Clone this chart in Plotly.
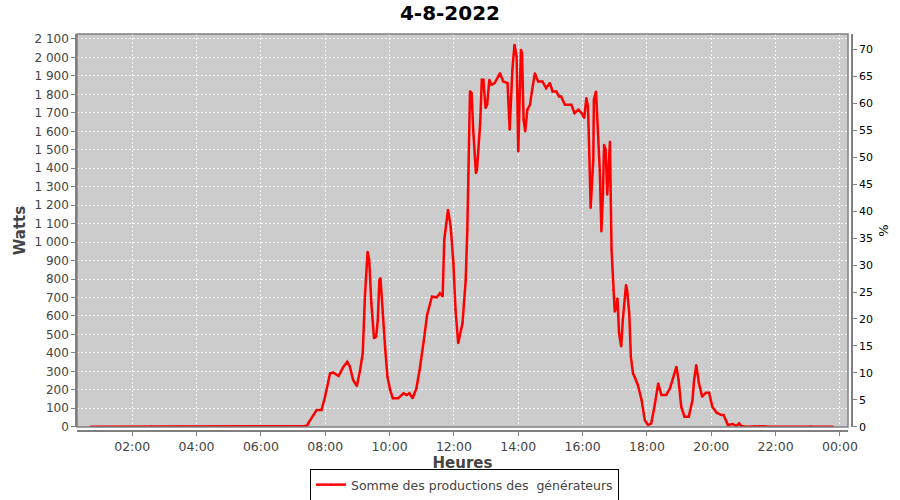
import plotly.graph_objects as go

DAY = "2022-08-04"
NEXT_DAY = "2022-08-05"

# Heures (HH:MM) and Watts
times = [
    "00:42", "00:55", "01:10", "01:25", "01:40", "01:55", "02:10", "02:25", "02:35", "02:45",
    "03:00", "03:15", "03:25", "03:35", "03:50", "04:05", "04:20", "04:35", "04:50", "05:05",
    "05:20", "05:35", "05:50", "06:05", "06:15", "06:25", "06:35", "06:50", "07:00", "07:10",
    "07:20", "07:26", "07:29", "07:38", "07:44", "07:53", "07:59", "08:09", "08:15", "08:25",
    "08:34", "08:41", "08:46", "08:52", "08:59", "09:05", "09:10", "09:14", "09:19", "09:22",
    "09:26", "09:31", "09:35", "09:38", "09:41", "09:43", "09:47", "09:52", "09:56", "10:01",
    "10:06", "10:16", "10:26", "10:32", "10:37", "10:43", "10:50", "10:56", "11:04", "11:10",
    "11:19", "11:28", "11:34", "11:39", "11:42", "11:49", "11:54", "11:59", "12:03", "12:08",
    "12:16", "12:22", "12:25", "12:27", "12:30", "12:33", "12:36", "12:41", "12:43", "12:49",
    "12:52", "12:55", "12:59", "13:02", "13:06", "13:10", "13:16", "13:26", "13:32", "13:40",
    "13:44", "13:49", "13:53", "13:57", "14:00", "14:05", "14:07", "14:10", "14:13", "14:17",
    "14:22", "14:25", "14:31", "14:37", "14:45", "14:52", "14:59", "15:04", "15:11", "15:16",
    "15:20", "15:27", "15:39", "15:45", "15:52", "15:58", "16:03", "16:07", "16:10", "16:12",
    "16:15", "16:20", "16:21", "16:25", "16:29", "16:32", "16:35", "16:38", "16:40", "16:43",
    "16:46", "16:51", "16:54", "16:57", "17:00", "17:03", "17:05", "17:08", "17:12", "17:15",
    "17:21", "17:23", "17:27", "17:30", "17:34", "17:37", "17:43", "17:50", "17:56", "18:02",
    "18:08", "18:14", "18:21", "18:27", "18:36", "18:43", "18:49", "18:55", "18:59", "19:04",
    "19:10", "19:18", "19:25", "19:28", "19:32", "19:37", "19:43", "19:50", "19:56", "20:02",
    "20:10", "20:19", "20:23", "20:31", "20:40", "20:47", "20:52", "20:56", "21:05", "21:20",
    "21:35", "21:50", "22:05", "22:20", "22:35", "22:50", "23:05", "23:20", "23:35", "23:47",
]
watts = [
    0, 0, 0, 0, 0, 0, 0, 0, 3, 0,
    0, 0, 3, 0, 0, 0, 0, 0, 0, 0,
    0, 0, 3, 0, 3, 4, 0, 0, 3, 3,
    4, 5, 22, 63, 90, 90, 154, 289, 293, 275,
    325, 352, 325, 253, 220, 307, 398, 705, 948, 903,
    669, 479, 488, 578, 795, 804, 615, 416, 271, 199,
    154, 154, 181, 172, 181, 154, 208, 307, 470, 605,
    705, 701, 723, 705, 1012, 1175, 1084, 886, 632, 452,
    560, 795, 1066, 1373, 1817, 1807, 1608, 1373, 1391, 1644,
    1879, 1879, 1726, 1744, 1879, 1852, 1861, 1915, 1870, 1861,
    1608, 1933, 2069, 2005, 1490, 2042, 2024, 1662, 1599, 1717,
    1744, 1807, 1915, 1870, 1870, 1834, 1861, 1816, 1816, 1789,
    1789, 1744, 1744, 1699, 1717, 1699, 1672, 1780, 1734, 1536,
    1184, 1446, 1771, 1816, 1590, 1391, 1057, 1265, 1527, 1500,
    1256, 1545, 958, 741, 623, 650, 696, 506, 434, 578,
    768, 741, 615, 379, 289, 271, 226, 145, 36, 9,
    18, 108, 235, 172, 172, 208, 262, 325, 253, 108,
    54, 54, 145, 253, 334, 235, 163, 184, 184, 108,
    76, 63, 63, 9, 15, 4, 18, 4, 0, 2,
    2, 0, 0, 0, 0, 0, 2, 0, 0, 0,
]

series_name = "Somme des productions des \u00a0générateurs"
title_text = "4-8-2022"
x_title = "Heures"
y_title = "Watts"
y2_title = "%"
w_range = [-1.5, 2127]
pct_range = [-0.05, 72.9]
x_range = [f"{DAY} 00:17", f"{NEXT_DAY} 00:15"]

x_vals = [f"{DAY} {t}" for t in times]

FONT = "DejaVu Sans"
GRID = "rgba(255,255,255,0.85)"

fig = go.Figure()
fig.add_trace(go.Scatter(
    x=x_vals, y=watts, name=series_name, mode="lines+markers",
    line=dict(color="#ff0000", width=2.5),
    marker=dict(color="#ee0000", size=2),
))
# helper so the % axis is drawn
fig.add_trace(go.Scatter(x=[x_vals[0]], y=[None], yaxis="y2", showlegend=False,
                         hoverinfo="skip", mode="lines"))

W, H = 900, 500
ml, mr, mt, mb = 77, 48, 34, 69
area_w = W - ml - mr
area_h = H - mt - mb

fig.update_layout(
    width=W, height=H,
    margin=dict(l=ml, r=mr, t=mt, b=mb, autoexpand=False),
    paper_bgcolor="white",
    plot_bgcolor="#cccccc",
    separators=", ",
    font=dict(family=FONT, size=12, color="#444444"),
    title=dict(text=f"<b>{title_text}</b>", x=0.5, xanchor="center", y=1 - 13 / H,
               yanchor="middle", font=dict(size=20, color="black", family=FONT)),
    xaxis=dict(
        type="date", range=x_range, domain=[0, (area_w - 4) / area_w],
        anchor="free", position=0, automargin=False,
        dtick=7200000, tick0=f"{DAY} 00:00", tickformat="%H:%M",
        showgrid=True, gridcolor=GRID, griddash="2px,2px", gridwidth=1,
        showline=True, linecolor="#808080", linewidth=1.5,
        ticks="outside", ticklen=4, tickcolor="#808080",
        tickfont=dict(size=12.5, color="#444444"),
        title=dict(text=f"<b>{x_title}</b>", font=dict(size=15, color="#444444"), standoff=1),
        zeroline=False,
    ),
    yaxis=dict(
        range=w_range, domain=[4 / area_h, 1], dtick=100, tick0=0, automargin=False,
        separatethousands=True,
        showgrid=True, gridcolor=GRID, griddash="2px,2px", gridwidth=1,
        showline=True, linecolor="#808080", linewidth=1.5,
        ticks="outside", ticklen=4, tickcolor="#808080",
        tickfont=dict(size=12, color="#444444"),
        title=dict(text=f"<b>{y_title}</b>", font=dict(size=15, color="#444444"), standoff=5),
        zeroline=False,
    ),
    yaxis2=dict(
        range=pct_range, overlaying="y", side="right", anchor="free", position=1,
        automargin=False,
        dtick=5, tick0=0, showgrid=False, zeroline=False,
        showline=True, linecolor="#808080", linewidth=1.5,
        ticks="outside", ticklen=4, tickcolor="#808080",
        tickfont=dict(size=11, color="black"),
        title=dict(text=y2_title, font=dict(size=13, color="black"), standoff=6),
    ),
    legend=dict(orientation="h", x=0.5, xanchor="center", y=(0 - 38) / area_h,
                yanchor="top", bordercolor="black", borderwidth=1, bgcolor="white",
                font=dict(size=12.5, color="#444444"), itemwidth=30,
                tracegroupgap=0),
    showlegend=True,
)
fig.add_shape(type="rect", xref="x domain", yref="y domain", x0=0, x1=1, y0=0, y1=1,
              line=dict(color="#808080", width=1.5), layer="above")

fig.write_html("out.html", config={"displayModeBar": False},
               post_script="document.body.style.margin='0';")
